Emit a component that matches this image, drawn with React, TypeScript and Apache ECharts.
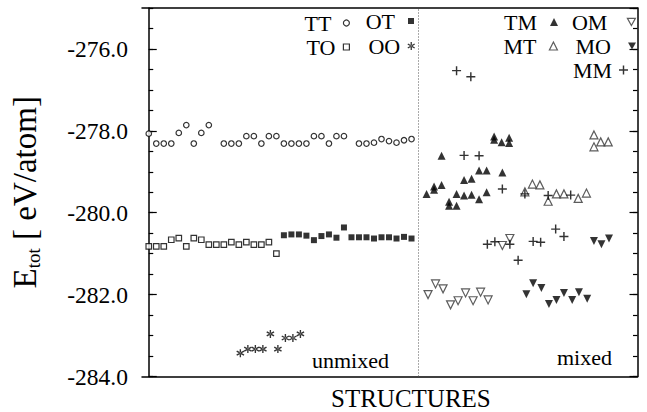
import React, { useEffect, useRef } from "react";
import * as echarts from "echarts";

// ---- data (x = structure index, y = E_tot in eV/atom) ----
const ttX = [0, 1, 2, 3, 4, 5, 6, 7, 8, 10, 11, 12, 13, 14, 15, 16, 17, 18, 19, 20, 21, 22, 23, 24, 25, 26, 28, 29, 30, 31, 32, 33, 34, 35];
const ttY = [-278.07, -278.31, -278.31, -278.31, -278.05, -277.86, -278.31, -278.05, -277.86,
  -278.31, -278.31, -278.31, -278.13, -278.13, -278.31, -278.13, -278.13, -278.31, -278.31, -278.31, -278.31, -278.13, -278.13, -278.31, -278.13, -278.13,
  -278.31, -278.31, -278.29, -278.2, -278.25, -278.29, -278.23, -278.2];

const toX = [0, 1, 2, 3, 4, 5, 6, 7, 8, 9, 10, 11, 12, 13, 14, 15, 16, 17];
const toY = [-280.82, -280.82, -280.82, -280.66, -280.62, -280.82, -280.62, -280.66, -280.78, -280.78, -280.78, -280.72, -280.78, -280.72, -280.78, -280.78, -280.72, -281.0];

const otX = [18, 19, 20, 21, 22, 23, 24, 25, 26, 27, 28, 29, 30, 31, 32, 33, 34, 35];
const otY = [-280.55, -280.53, -280.53, -280.56, -280.67, -280.57, -280.53, -280.61, -280.36, -280.6, -280.6, -280.6, -280.63, -280.6, -280.6, -280.63, -280.59, -280.63];

const ooX = [12.2, 13.2, 14.2, 15.2, 16.2, 17.2, 18.2, 19.2, 20.2];
const ooY = [-283.43, -283.33, -283.33, -283.33, -282.96, -283.33, -283.06, -283.06, -282.96];

const tmX = [37, 38, 38, 39, 39, 40, 40, 41, 41, 42, 42, 43, 43, 44, 44, 45, 45, 46, 46, 47, 47.1, 48, 48];
const tmY = [-279.54, -279.36, -279.44, -279.32, -278.61, -279.73, -279.83, -279.83, -279.54, -279.58, -279.2, -279.56, -279.17, -279.67, -278.97, -279.5, -278.97, -278.14, -278.22, -278.28, -279.02, -278.17, -278.3];

const mtX = [50.1, 51.1, 52.1, 53.2, 54.3, 55.3, 57.2, 58.3, 59.3, 59.3, 60.2, 61.2];
const mtY = [-279.49, -279.3, -279.32, -279.72, -279.54, -279.54, -279.65, -279.52, -278.1, -278.39, -278.27, -278.27];

const omX = [37.2, 38.2, 39.2, 40.2, 41.2, 42.2, 43.2, 44.2, 45.2, 47.1, 48.1];
const omY = [-282.0, -281.74, -281.86, -282.25, -282.15, -281.96, -282.15, -281.94, -282.13, -280.8, -280.63];

const moX = [50.3, 51.2, 52.3, 53.3, 54.3, 55.3, 56.4, 57.3, 58.4, 59.3, 60.3, 61.3];
const moY = [-281.99, -281.72, -281.84, -282.23, -282.13, -281.96, -282.13, -281.94, -282.1, -280.69, -280.77, -280.63];

const mmX = [41.0, 42.0, 42.9, 44.0, 45.1, 46.1, 47.1, 48.1, 49.2, 50.1, 51.2, 52.2, 53.2, 54.2, 55.3, 56.2];
const mmY = [-276.53, -278.6, -276.68, -278.61, -280.77, -280.71, -279.42, -280.77, -281.16, -279.54, -280.7, -280.72, -279.58, -280.4, -280.58, -279.57];

const dividerX = 35.9;
const yMin = -284;
const yMax = -275;
const xMin = -0.9;
const xMax = 65.1;

const FONT = "'Liberation Serif', serif";

const PLUS = "path://M4.2,0L5.8,0L5.8,4.2L10,4.2L10,5.8L5.8,5.8L5.8,10L4.2,10L4.2,5.8L0,5.8L0,4.2L4.2,4.2Z";
const STAR = "path://M4.2,0L5.8,0L5.8,10L4.2,10ZM8.9,8.2L9.7,6.8L1.1,1.8L0.3,3.2ZM9.7,3.2L8.9,1.8L0.3,6.8L1.1,8.2Z";
const DOWN = "path://M0,0L10,0L5,9Z";

function pts(xs: number[], ys: number[]) {
  return xs.map((x, i) => [x, ys[i]]);
}

const hollow = (c = "#000") => ({ color: "#fff", borderColor: c, borderWidth: 1.2 });
const filled = { color: "#000", borderWidth: 0 };

export default function App() {
  const ref = useRef<HTMLDivElement>(null);
  useEffect(() => {
    if (!ref.current) return;
    const chart = echarts.init(ref.current, undefined, { renderer: "svg" });

    const legendCfg = [
      { name: "TT", right: 297, top: 12, size: 6, pad: 7, hollow: true },
      { name: "TO", right: 297, top: 36, size: 6, pad: 3, hollow: true },
      { name: "OT", right: 233, top: 10, size: 6, pad: 8, hollow: false },
      { name: "OO", right: 232, top: 35, size: 8, pad: 2, hollow: false },
      { name: "TM", right: 89, top: 11, size: 8, pad: 8, hollow: false },
      { name: "MT", right: 89, top: 35, size: 8, pad: 8, hollow: true },
      { name: "OM", right: 11, top: 11, size: 8, pad: 15, hollow: true },
      { name: "MO", right: 11, top: 35, size: 8, pad: 12, hollow: false },
      { name: "MM", right: 19, top: 59, size: 9, pad: 2, hollow: false },
    ];

    const yBase = { type: "value", min: yMin, max: yMax, splitLine: { show: false } };

    const option: any = {
      animation: false,
      backgroundColor: "#fff",
      grid: { left: 142, right: 9.5, top: 8, bottom: 35.5 },
      xAxis: [
        { type: "value", min: xMin, max: xMax, position: "bottom", axisLine: { show: true, lineStyle: { color: "#000", width: 1.5 } }, axisTick: { show: false }, axisLabel: { show: false }, splitLine: { show: false } },
        { type: "value", min: xMin, max: xMax, position: "top", axisLine: { show: true, lineStyle: { color: "#000", width: 1.5 } }, axisTick: { show: false }, axisLabel: { show: false }, splitLine: { show: false } },
      ],
      yAxis: [
        {
          ...yBase, position: "left", interval: 2,
          axisLine: { show: true, lineStyle: { color: "#000", width: 1.5 } },
          axisTick: { show: true, inside: true, length: 8, lineStyle: { color: "#000", width: 1.2 } },
          axisLabel: {
            show: true, margin: 14, color: "#000", fontFamily: FONT, fontSize: 23.5, showMaxLabel: false,
            formatter: (v: number) => (Math.abs(v % 2) < 1e-6 ? v.toFixed(1) : ""),
          },
          name: "{e|E}{s|tot}{e| [ eV/atom]}",
          nameLocation: "middle",
          nameRotate: 90,
          nameGap: 99,
          nameTextStyle: {
            color: "#000",
            fontFamily: FONT,
            rich: {
              e: { fontFamily: FONT, fontSize: 33, lineHeight: 36, color: "#000" },
              s: { fontFamily: FONT, fontSize: 19, lineHeight: 19, verticalAlign: "bottom", color: "#000" },
            },
          },
        },
        {
          ...yBase, position: "left", interval: 0.5,
          axisLine: { show: false },
          axisTick: { show: true, inside: true, length: 4.5, lineStyle: { color: "#000", width: 1.2 } },
          axisLabel: { show: false },
        },
        {
          ...yBase, position: "right", interval: 2,
          axisLine: { show: true, lineStyle: { color: "#000", width: 1.5 } },
          axisTick: { show: true, inside: true, length: 8, lineStyle: { color: "#000", width: 1.2 } },
          axisLabel: { show: false },
        },
        {
          ...yBase, position: "right", interval: 0.5,
          axisLine: { show: false },
          axisTick: { show: true, inside: true, length: 4.5, lineStyle: { color: "#000", width: 1.2 } },
          axisLabel: { show: false },
        },
      ],
      legend: legendCfg.map((l) => ({
        data: [{ name: l.name }],
        right: l.right,
        top: l.top,
        padding: 0,
        align: "right",
        itemWidth: l.size,
        itemHeight: l.size,
        selectedMode: false,
        itemStyle: { borderWidth: l.hollow ? 1.2 : 0 },
        textStyle: { color: "#000", fontFamily: FONT, fontSize: 22, lineHeight: 20, padding: [0, l.pad, 0, 0] },
      })),
      series: [
        {
          name: "TT", type: "scatter", symbol: "circle", symbolSize: 5.5, itemStyle: hollow(), data: pts(ttX, ttY), silent: true,
          markLine: {
            silent: true, symbol: ["none", "none"], label: { show: false },
            lineStyle: { type: [1, 2], color: "#555", width: 1 },
            data: [{ xAxis: dividerX }],
          },
        },
        { name: "TO", type: "scatter", symbol: "rect", symbolSize: 5.5, itemStyle: hollow(), data: pts(toX, toY), silent: true },
        { name: "OT", type: "scatter", symbol: "rect", symbolSize: 6, itemStyle: filled, data: pts(otX, otY), silent: true },
        { name: "OO", type: "scatter", symbol: STAR, symbolSize: 8, itemStyle: filled, data: pts(ooX, ooY), silent: true },
        { name: "TM", type: "scatter", symbol: "triangle", symbolSize: 8, itemStyle: filled, data: pts(tmX, tmY), silent: true },
        { name: "MT", type: "scatter", symbol: "triangle", symbolSize: 8, itemStyle: hollow("#333"), data: pts(mtX, mtY), silent: true },
        { name: "OM", type: "scatter", symbol: DOWN, symbolSize: 8, itemStyle: hollow("#333"), data: pts(omX, omY), silent: true },
        { name: "MO", type: "scatter", symbol: DOWN, symbolSize: 8, itemStyle: filled, data: pts(moX, moY), silent: true },
        { name: "MM", type: "scatter", symbol: PLUS, symbolSize: 9, itemStyle: filled, data: pts(mmX, mmY), silent: true },
      ],
      graphic: [
        { type: "text", left: 312, top: 349, style: { text: "unmixed", fill: "#000", font: `22px ${FONT}` } },
        { type: "text", left: 557, top: 346, style: { text: "mixed", fill: "#000", font: `22px ${FONT}` } },
        { type: "text", left: 331, top: 386, style: { text: "STRUCTURES", fill: "#000", font: `25px ${FONT}` } },
      ],
    };

    chart.setOption(option);
    return () => chart.dispose();
  }, []);

  return <div ref={ref} style={{ position: "absolute", left: 0, top: 0, width: 647, height: 412 }} />;
}
